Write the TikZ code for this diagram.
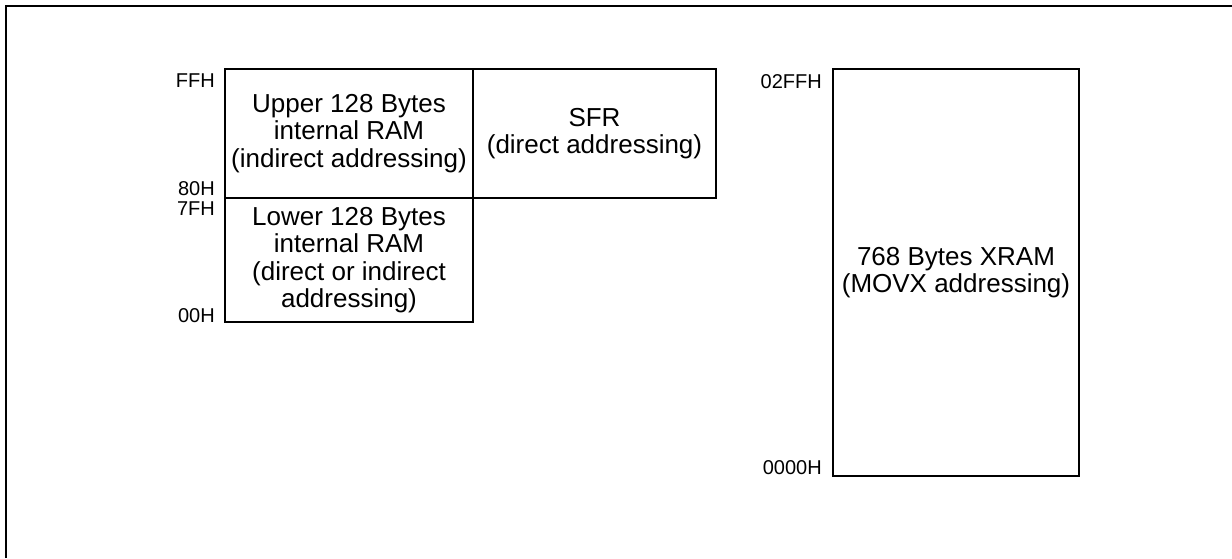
\documentclass[tikz,border=0pt]{standalone}
\usepackage{fontspec}
\setmainfont{Liberation Sans}
\usetikzlibrary{positioning}

\begin{document}
\begin{tikzpicture}[
        x=1pt,y=-1pt,
        node distance=0pt,
        mem/.style={draw,line width=2.6pt,outer sep=0pt,inner sep=0pt,align=center,font=\fontsize{26}{27.5}\selectfont},
        addr/.style={inner sep=0pt,font=\fontsize{20}{21}\selectfont},
        frame/.style={line width=1.8pt}
      ]
        \useasboundingbox (0,0) rectangle (1232,558);
        \draw[frame] (6,558) -- (6,6) -- (1232,6);
        % internal RAM and SFR
        \node[mem,minimum width=248pt,minimum height=129pt] (upper) at (349,133.5) {Upper 128 Bytes\\internal RAM\\(indirect addressing)};
        \node[mem,minimum width=243pt,minimum height=129pt,right=of upper] (sfr) {SFR\\(direct addressing)};
        \node[mem,minimum width=248pt,minimum height=124pt,below=of upper] (lower) {Lower 128 Bytes\\internal RAM\\(direct or indirect\\addressing)};
        % external RAM
        \node[mem,minimum width=246pt,minimum height=407pt] (xram) at (956,272.5) {768 Bytes XRAM\\(MOVX addressing)};
        % addresses
        \node[addr,anchor=base east] (ffh) at ([xshift=-10pt,yshift=-18pt]upper.north west) {FFH};
        \node[addr,anchor=base east] (h80) at ([xshift=-10pt,yshift=3pt]upper.south west) {80H};
        \node[addr,anchor=base east] (h7f) at ([xshift=-10pt,yshift=-17pt]lower.north west) {7FH};
        \node[addr,anchor=base east] (h00) at ([xshift=-10pt]lower.south west) {00H};
        \node[addr,anchor=base east] (h2ff) at ([xshift=-11pt,yshift=-19pt]xram.north west) {02FFH};
        \node[addr,anchor=base east] (h0000) at ([xshift=-11pt,yshift=2pt]xram.south west) {0000H};
      \end{tikzpicture}
\end{document}
